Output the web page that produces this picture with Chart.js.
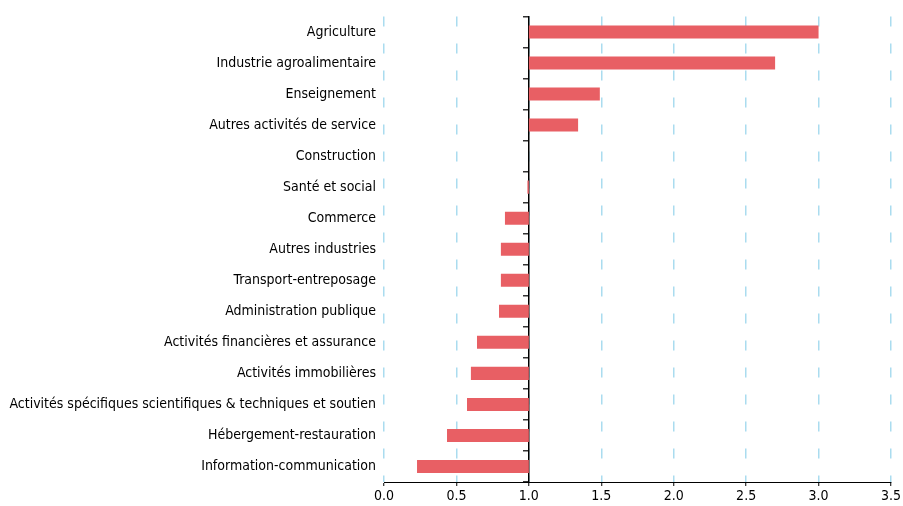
<!DOCTYPE html>
<html>
<head>
<meta charset="utf-8">
<script src="https://cdn.jsdelivr.net/npm/chart.js@4.4.1/dist/chart.umd.min.js"></script>
<style>
  html, body { margin: 0; padding: 0; background: #fff; }
  #wrap { width: 903px; height: 506px; position: relative; }
</style>
</head>
<body>
<div id="wrap"><canvas id="barChart"></canvas></div>
<script>
const secteurs = [
    'Agriculture',
    'Industrie agroalimentaire',
    'Enseignement',
    'Autres activités de service',
    'Construction',
    'Santé et social',
    'Commerce',
    'Autres industries',
    'Transport-entreposage',
    'Administration publique',
    'Activités financières et assurance',
    'Activités immobilières',
    'Activités spécifiques scientifiques & techniques et soutien',
    'Hébergement-restauration',
    'Information-communication'
];
const indices = [3.0, 2.7, 1.49, 1.34, 1.0, 0.99, 0.835, 0.807, 0.807, 0.794, 0.642, 0.60, 0.573, 0.435, 0.228];
const reference = 1.0;
const xTicks = [0, 0.5, 1, 1.5, 2, 2.5, 3, 3.5];

const FONT = "'Liberation Sans Narrow', 'DejaVu Sans Condensed', sans-serif";

const ctx = document.getElementById('barChart').getContext('2d');
new Chart(ctx, {
    type: 'bar',
    data: {
        labels: secteurs,
        datasets: [{
            data: indices.map(v => [reference, v]),
            backgroundColor: '#e85f64',
            borderWidth: 0,
            categoryPercentage: 1,
            barPercentage: 0.42
        }]
    },
    options: {
        indexAxis: 'y',
        responsive: true,
        maintainAspectRatio: false,
        animation: false,
        layout: { padding: { top: 14, right: 9, left: 0, bottom: 0 } },
        plugins: { legend: { display: false }, tooltip: { enabled: false } },
        scales: {
            x: {
                type: 'linear',
                min: xTicks[0], max: xTicks[xTicks.length - 1],
                afterBuildTicks: scale => { scale.ticks = xTicks.map(v => ({ value: v })); },
                afterFit: scale => { scale.height = 24; },
                grid: { color: '#aadcef', lineWidth: 1.5, tickColor: '#000', tickLength: 4, tickWidth: 1 },
                border: { display: true, color: '#000', width: 1, dash: [10, 17] },
                ticks: { color: '#000', font: { family: FONT, size: 14 }, padding: 2, callback: v => Number(v).toFixed(1) }
            },
            y: {
                grid: { display: false, drawTicks: false },
                border: { display: false },
                afterFit: scale => { scale.width = 384; },
                ticks: { color: '#000', font: { family: FONT, size: 14 }, padding: 8 }
            },
            y2: {
                type: 'category',
                position: { x: reference },
                offset: true,
                grid: { offset: true, drawOnChartArea: false, drawTicks: true, tickLength: 5, color: '#333', tickColor: '#333', lineWidth: 1.5 },
                border: { display: true, color: '#000', width: 1.5 },
                ticks: { display: false }
            }
        }
    }
});
</script>
</body>
</html>
